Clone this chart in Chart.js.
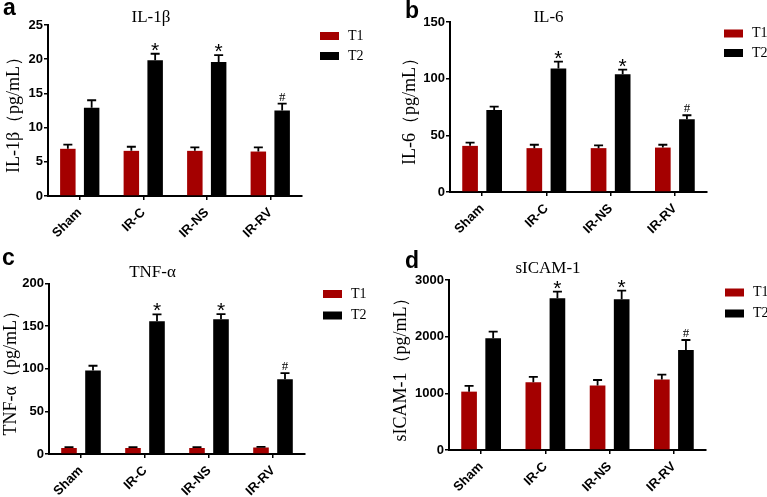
<!DOCTYPE html>
<html>
<head>
<meta charset="utf-8">
<script src="https://cdn.jsdelivr.net/npm/chart.js@4.4.1/dist/chart.umd.min.js"></script>
<style>
html,body{margin:0;padding:0;background:#fff;overflow:hidden;width:767px;height:497px;position:relative;}
canvas{position:absolute;}
</style>
</head>
<body>
<canvas id="pa" width="374" height="240" style="left:0px;top:0px"></canvas>
<canvas id="pb" width="400" height="240" style="left:390px;top:0px"></canvas>
<canvas id="pc" width="374" height="257" style="left:0px;top:240px"></canvas>
<canvas id="pd" width="400" height="257" style="left:390px;top:240px"></canvas>
<script>
// ---- data ----
const categories = ['Sham', 'IR-C', 'IR-NS', 'IR-RV'];
const seriesNames = ['T1', 'T2'];

const il1bT1 = [6.9, 6.6, 6.6, 6.5];
const il1bT1Err = [0.6, 0.6, 0.5, 0.6];
const il1bT2 = [12.9, 19.85, 19.6, 12.5];
const il1bT2Err = [1.1, 0.95, 1.0, 1.0];

const il6T1 = [40.7, 38.7, 38.7, 39.2];
const il6T1Err = [2.9, 3.0, 2.5, 2.5];
const il6T2 = [72.4, 109, 104, 64.2];
const il6T2Err = [3.0, 6.0, 4.0, 3.5];

const tnfT1 = [7.1, 7.0, 7.0, 7.5];
const tnfT1Err = [1.0, 1.0, 1.0, 0.8];
const tnfT2 = [98, 155.7, 158, 87.8];
const tnfT2Err = [5.5, 8.0, 6.0, 7.0];

const sicamT1 = [1030, 1195, 1140, 1245];
const sicamT1Err = [100, 95, 95, 85];
const sicamT2 = [1970, 2676, 2659, 1765];
const sicamT2Err = [118, 118, 153, 176];

const marksT1 = ['', '', '', ''];
const marksT2 = ['', '*', '*', '#'];

const il1bTicks = [0, 25, 5];
const il6Ticks = [0, 150, 50];
const tnfTicks = [0, 200, 50];
const sicamTicks = [0, 3000, 1000];

// ---- styling ----
const RED = '#a40000';
const BLACK = '#000000';
const SANS = '"Liberation Sans", Arial, sans-serif';
const SERIF = '"Liberation Serif", "Times New Roman", serif';
Chart.defaults.color = '#000';
Chart.defaults.font.family = SANS;

const decor = {
  id: 'decor',
  afterDatasetsDraw(chart, args, o) {
    const ctx = chart.ctx, ys = chart.scales.y;
    ctx.save();
    chart.data.datasets.forEach((ds, di) => {
      const meta = chart.getDatasetMeta(di);
      meta.data.forEach((bar, i) => {
        const v = ds.data[i], e = ds.errors[i];
        const top = ys.getPixelForValue(v + e);
        ctx.strokeStyle = '#000';
        ctx.lineWidth = 1.8;
        ctx.beginPath();
        ctx.moveTo(bar.x, bar.y);
        ctx.lineTo(bar.x, top);
        ctx.moveTo(bar.x - 4.5, top);
        ctx.lineTo(bar.x + 4.5, top);
        ctx.stroke();
        const m = ds.marks[i];
        ctx.fillStyle = '#000';
        ctx.textAlign = 'center';
        ctx.textBaseline = 'alphabetic';
        if (m === '*') {
          ctx.font = '21px ' + SANS;
          ctx.fillText('*', bar.x, top + 3);
        } else if (m === '#') {
          ctx.font = '13px ' + SERIF;
          ctx.fillText('#', bar.x, top - 3);
        }
      });
    });
    ctx.restore();
  },
  afterDraw(chart, args, o) {
    const ctx = chart.ctx;
    ctx.save();
    // legend
    chart.data.datasets.forEach((ds, di) => {
      const cy = o.legendY[di];
      ctx.fillStyle = ds.backgroundColor;
      ctx.fillRect(o.legendX, cy - 4, 19, 8);
      ctx.fillStyle = '#000';
      ctx.font = '14px ' + SERIF;
      ctx.textAlign = 'left';
      ctx.textBaseline = 'middle';
      ctx.fillText(ds.label, o.legendTextX, cy);
    });
    // panel letter
    ctx.font = 'bold 23px ' + SANS;
    ctx.textAlign = 'left';
    ctx.textBaseline = 'alphabetic';
    ctx.fillText(o.letter, o.letterX, o.letterY);
    ctx.restore();
  }
};

function makePanel(p) {
  const w = p.w;
  new Chart(document.getElementById(p.id), {
    type: 'bar',
    data: {
      labels: categories,
      datasets: [
        { label: seriesNames[0], data: p.t1, errors: p.t1e, marks: marksT1, backgroundColor: RED, borderWidth: 0 },
        { label: seriesNames[1], data: p.t2, errors: p.t2e, marks: marksT2, backgroundColor: BLACK, borderWidth: 0 }
      ]
    },
    options: {
      responsive: false,
      animation: false,
      devicePixelRatio: 1,
      categoryPercentage: 0.75,
      barPercentage: 0.65,
      layout: { padding: { left: 0, top: 0, right: w - p.R, bottom: 0 } },
      plugins: {
        legend: { display: false },
        tooltip: { enabled: false },
        title: {
          display: true,
          text: p.title,
          color: '#000',
          font: { family: SERIF, size: 17, weight: 'normal', lineHeight: 1 },
          padding: { top: p.titleTop, bottom: p.titleBottom }
        },
        decor: {
          legendX: p.legendX, legendTextX: p.legendX + 28, legendY: p.legendY,
          letter: p.letter, letterX: p.letterX, letterY: p.letterY
        }
      },
      scales: {
        x: {
          afterFit(s) { s.height = p.h - p.B; },
          offset: true,
          grid: { offset: false, drawOnChartArea: false, drawTicks: true, tickLength: 4, color: '#000', lineWidth: 1.5 },
          border: { display: true, color: '#000', width: 2 },
          ticks: { autoSkip: false, minRotation: 45, maxRotation: 45, padding: 5, color: '#000', font: { family: SANS, size: 13, weight: 'bold' } }
        },
        y: {
          afterFit(s) { s.width = p.L; },
          min: p.ticks[0], max: p.ticks[1],
          grid: { drawOnChartArea: false, drawTicks: true, tickLength: 4, color: '#000', lineWidth: 1.5 },
          border: { display: true, color: '#000', width: 2 },
          ticks: { stepSize: p.ticks[2], padding: 1, color: '#000', font: { family: SANS, size: 13, weight: 'bold' },
                   callback: (v) => String(v) },
          title: {
            display: true, text: p.yTitle, color: '#000',
            font: { family: SERIF, size: 18, weight: 'normal', lineHeight: 1.2 },
            padding: { top: p.yTitlePad, bottom: 0 }
          }
        }
      }
    },
    plugins: [decor]
  });
}

makePanel({ id: 'pa', w: 374, h: 240, L: 48, R: 302, B: 196, titleTop: 9, titleBottom: -1,
  title: 'IL-1β', yTitle: 'IL-1β（pg/mL）', yTitlePad: 3.2, ticks: il1bTicks,
  t1: il1bT1, t1e: il1bT1Err, t2: il1bT2, t2e: il1bT2Err,
  legendX: 320, legendY: [36, 56], letter: 'a', letterX: 3, letterY: 15 });

makePanel({ id: 'pb', w: 400, h: 240, L: 60, R: 317, B: 192, titleTop: 9, titleBottom: -4,
  title: 'IL-6', yTitle: 'IL-6（pg/mL）', yTitlePad: 9.7, ticks: il6Ticks,
  t1: il6T1, t1e: il6T1Err, t2: il6T2, t2e: il6T2Err,
  legendX: 334, legendY: [33.5, 53], letter: 'b', letterX: 15, letterY: 18 });

makePanel({ id: 'pc', w: 374, h: 257, L: 49, R: 305, B: 214, titleTop: 24.5, titleBottom: 2,
  title: 'TNF-α', yTitle: 'TNF-α（pg/mL）', yTitlePad: 0.2, ticks: tnfTicks,
  t1: tnfT1, t1e: tnfT1Err, t2: tnfT2, t2e: tnfT2Err,
  legendX: 323, legendY: [54, 75.5], letter: 'c', letterX: 2, letterY: 25 });

makePanel({ id: 'pd', w: 400, h: 257, L: 59, R: 316, B: 210, titleTop: 20, titleBottom: 3,
  title: 'sICAM-1', yTitle: 'sICAM-1（pg/mL）', yTitlePad: 0.7, ticks: sicamTicks,
  t1: sicamT1, t1e: sicamT1Err, t2: sicamT2, t2e: sicamT2Err,
  legendX: 335, legendY: [52.5, 73.5], letter: 'd', letterX: 15, letterY: 28 });
</script>
</body>
</html>
